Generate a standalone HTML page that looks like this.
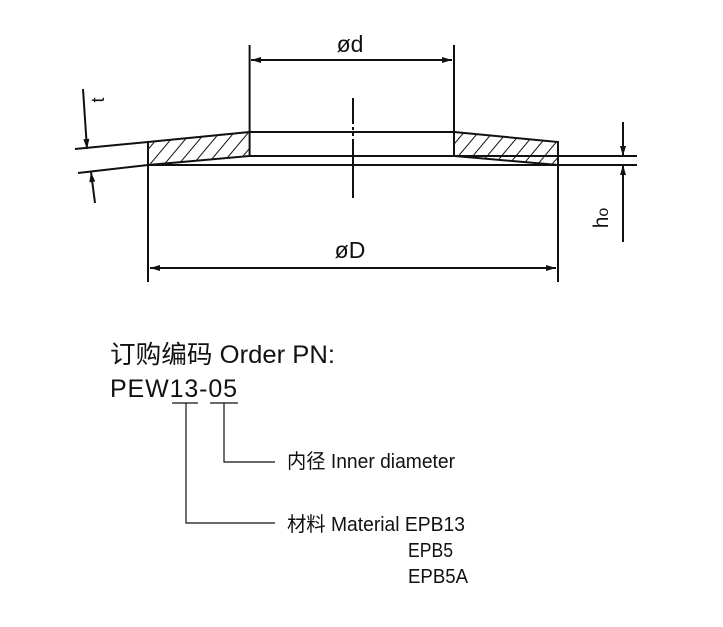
<!DOCTYPE html>
<html><head><meta charset="utf-8"><style>html,body{margin:0;padding:0;background:#fff}</style></head>
<body>
<svg width="723" height="622" viewBox="0 0 723 622" xmlns="http://www.w3.org/2000/svg">
<defs>
<pattern id="h" patternUnits="userSpaceOnUse" width="11" height="11" patternTransform="rotate(40)">
<line x1="0" y1="0" x2="0" y2="11" stroke="#111" stroke-width="2"/>
</pattern>
<marker id="a" viewBox="0 0 10 6" refX="10" refY="3" markerWidth="11" markerHeight="6" orient="auto-start-reverse" markerUnits="userSpaceOnUse">
<path d="M0,0 L10,3 L0,6 z" fill="#111"/></marker>
</defs>
<g stroke="#111" stroke-width="2" fill="none">
<polygon points="148,142 249.6,132 249.6,156 148,165" fill="url(#h)"/>
<polygon points="454,132 558,142 558,165 454,156" fill="url(#h)"/>
<line x1="249.6" y1="132" x2="454" y2="132"/>
<line x1="249.6" y1="156" x2="637" y2="156"/>
<line x1="148" y1="165" x2="637" y2="165"/>
<line x1="249.6" y1="45" x2="249.6" y2="132"/>
<line x1="454" y1="45" x2="454" y2="132"/>
<line x1="251" y1="60" x2="452" y2="60" marker-start="url(#a)" marker-end="url(#a)"/>
<line x1="353" y1="98" x2="353" y2="198" stroke-dasharray="26,3,3,3,3,3,60"/>
<line x1="148" y1="142" x2="148" y2="282"/>
<line x1="558" y1="142" x2="558" y2="282"/>
<line x1="150" y1="268" x2="556" y2="268" marker-start="url(#a)" marker-end="url(#a)"/>
<line x1="75" y1="149" x2="148" y2="142"/>
<line x1="78" y1="173" x2="148" y2="165"/>
<line x1="83" y1="89" x2="87" y2="149" marker-end="url(#a)"/>
<line x1="95" y1="203" x2="91" y2="172" marker-end="url(#a)"/>
<line x1="623" y1="122" x2="623" y2="156" marker-end="url(#a)"/>
<line x1="623" y1="242" x2="623" y2="165" marker-end="url(#a)"/>
<line x1="172" y1="403" x2="198" y2="403" stroke-width="1.2"/>
<line x1="210" y1="403" x2="238" y2="403" stroke-width="1.2"/>
<polyline points="186,403 186,523 275,523" stroke-width="1.2"/>
<polyline points="224,403 224,462 275,462" stroke-width="1.2"/>
</g>
<g fill="#111" font-family="'Liberation Sans','Noto Sans CJK SC',sans-serif">
<text x="350" y="52" font-size="23" text-anchor="middle">ød</text>
<text x="350" y="258" font-size="23" text-anchor="middle">øD</text>
<text transform="translate(104,100) rotate(-90)" font-size="18" text-anchor="middle">t</text>
<text transform="translate(608,218) rotate(-90)" font-size="21" text-anchor="middle">h<tspan font-size="16">o</tspan></text>
<text x="110" y="363" font-size="25" textLength="225" lengthAdjust="spacingAndGlyphs">订购编码 Order PN:</text>
<text x="110" y="397" font-size="25" textLength="127" lengthAdjust="spacing">PEW13-05</text>
<text x="287" y="468" font-size="20" textLength="168" lengthAdjust="spacingAndGlyphs">内径 Inner diameter</text>
<text x="287" y="531" font-size="20" textLength="178" lengthAdjust="spacingAndGlyphs">材料 Material EPB13</text>
<text x="408" y="557" font-size="20" textLength="45" lengthAdjust="spacingAndGlyphs">EPB5</text>
<text x="408" y="583" font-size="20" textLength="60" lengthAdjust="spacingAndGlyphs">EPB5A</text>
</g>
</svg>
</body></html>
